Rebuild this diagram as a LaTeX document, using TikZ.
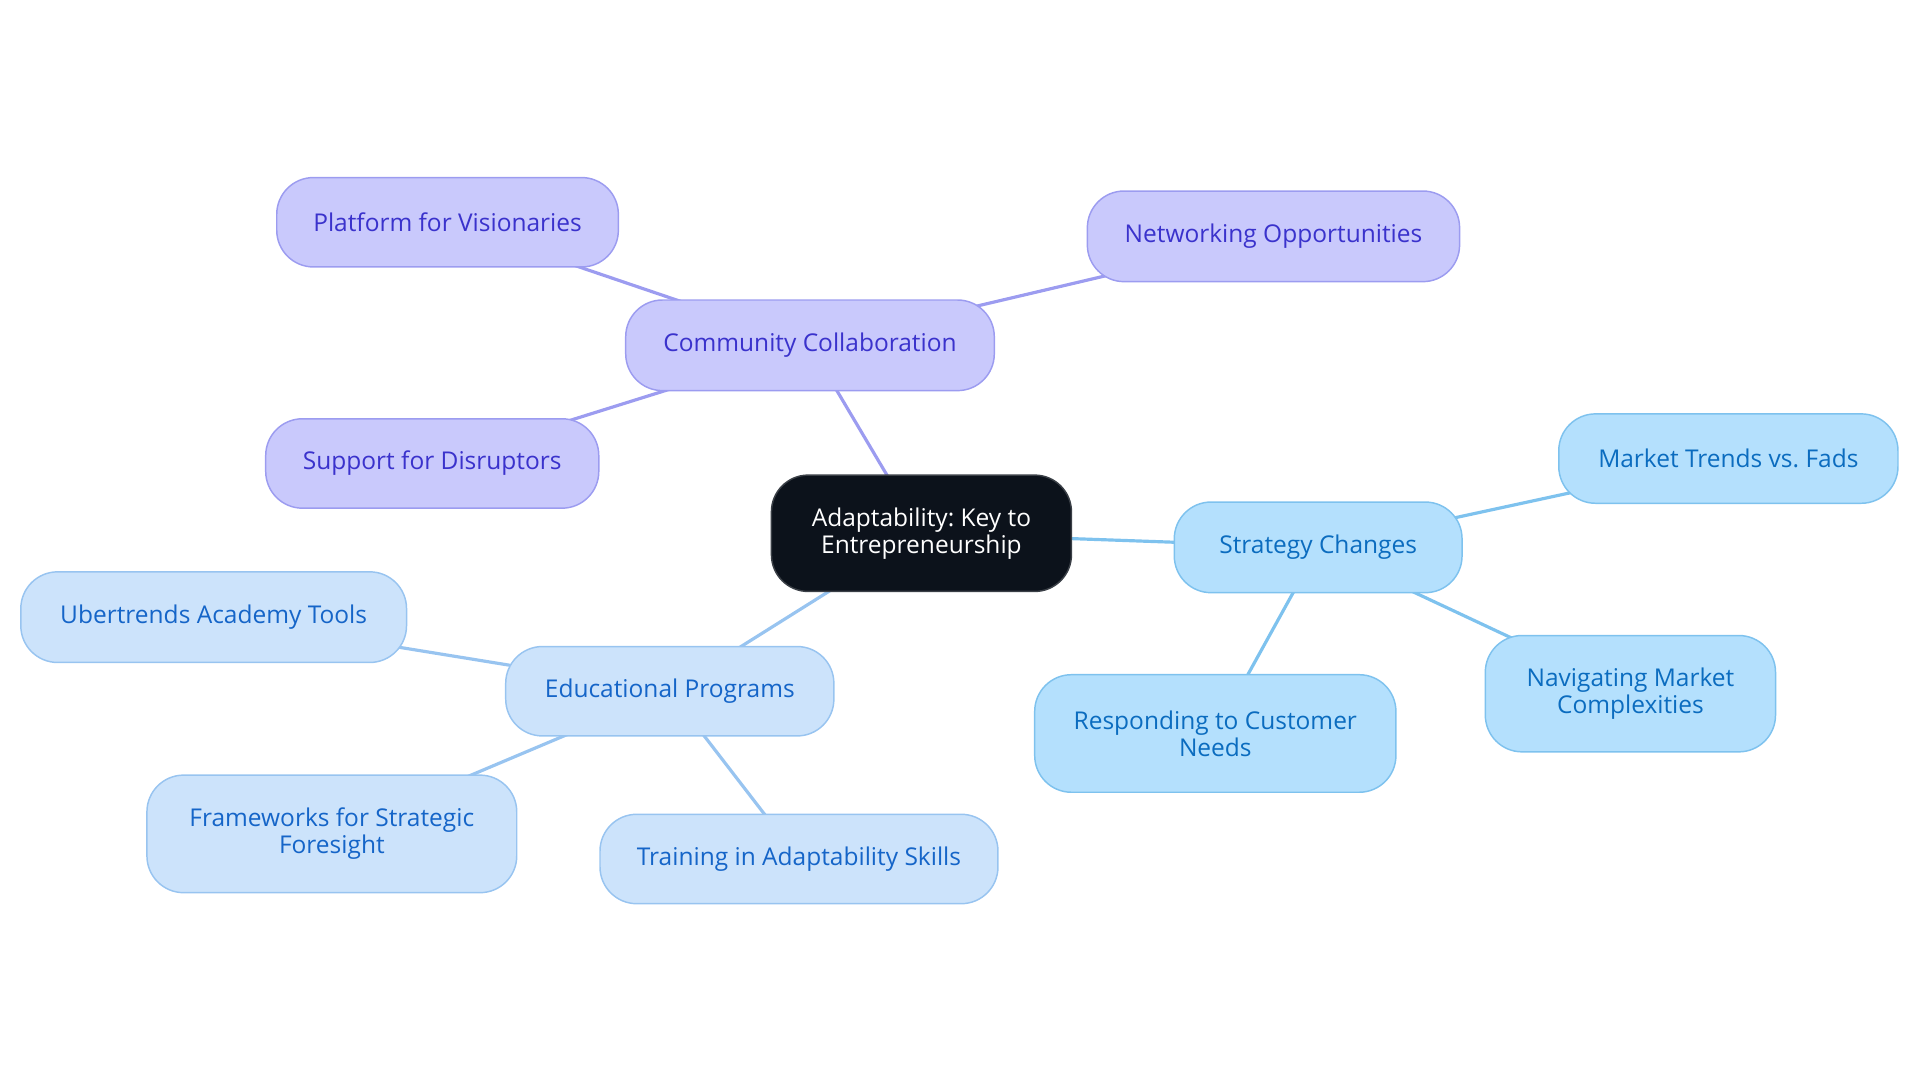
\documentclass[tikz,border=0pt]{standalone}
\usepackage{fontspec}
\setmainfont{Open Sans}
\frenchspacing
\usetikzlibrary{positioning,backgrounds}
\definecolor{hubfill}{HTML}{0C121B}
\definecolor{hubline}{HTML}{3A3F46}
\definecolor{commfill}{HTML}{C9C9FC}
\definecolor{commline}{HTML}{9C9CF0}
\definecolor{commtext}{HTML}{3A32CC}
\definecolor{edufill}{HTML}{CCE3FB}
\definecolor{eduline}{HTML}{98C4F0}
\definecolor{edutext}{HTML}{1565C8}
\definecolor{stratfill}{HTML}{B4E0FD}
\definecolor{stratline}{HTML}{7EC2EE}
\definecolor{strattext}{HTML}{0B6CBF}
\tikzstyle{topic}=[rectangle,rounded corners=30pt,align=center,inner sep=0pt,
  line width=1.2pt,font=\fontsize{20}{22}\selectfont]
\tikzstyle{hub}=[topic,fill=hubfill,draw=hubline,text=white]
\tikzstyle{comm}=[topic,fill=commfill,draw=commline,text=commtext]
\tikzstyle{edu}=[topic,fill=edufill,draw=eduline,text=edutext]
\tikzstyle{strat}=[topic,fill=stratfill,draw=stratline,text=strattext]
\newcommand{\newTopic}[6]{\node[#3,minimum width=#5,minimum height=#6](#1) at (#4) {#2};}
\newcommand{\newLink}[3]{\path[draw=#3,line width=2.6pt] (#1.center) -- (#2.center);}

\begin{document}
\begin{tikzpicture}[x=1pt,y=-1pt]
    \useasboundingbox (0,0) rectangle (1568,884);
    \newTopic{hub}{Adaptability: Key to\\Entrepreneurship}{hub}{752.5,435.5}{245pt}{95pt}
    \newTopic{comm}{Community Collaboration}{comm}{661.5,282}{301pt}{74pt}
    \newTopic{plat}{Platform for Visionaries}{comm}{365.5,181.5}{279pt}{73pt}
    \newTopic{netw}{Networking Opportunities}{comm}{1040,193}{304pt}{74pt}
    \newTopic{supp}{Support for Disruptors}{comm}{353,378.5}{272pt}{73pt}
    \newTopic{strat}{Strategy Changes}{strat}{1076.5,447}{235pt}{74pt}
    \newTopic{trend}{Market Trends vs. Fads}{strat}{1411.5,374.5}{277pt}{73pt}
    \newTopic{navi}{Navigating Market\\Complexities}{strat}{1331.5,566.5}{237pt}{95pt}
    \newTopic{resp}{Responding to Customer\\Needs}{strat}{992.5,599}{295pt}{96pt}
    \newTopic{edu}{Educational Programs}{edu}{547,564.5}{268pt}{73pt}
    \newTopic{uber}{Ubertrends Academy Tools}{edu}{174.5,504}{315pt}{74pt}
    \newTopic{frame}{Frameworks for Strategic\\Foresight}{edu}{271,681}{302pt}{96pt}
    \newTopic{train}{Training in Adaptability Skills}{edu}{652.5,701.5}{325pt}{73pt}
    \begin{scope}[on background layer]
    \newLink{hub}{comm}{commline}
    \newLink{comm}{plat}{commline}
    \newLink{comm}{netw}{commline}
    \newLink{comm}{supp}{commline}
    \newLink{hub}{strat}{stratline}
    \newLink{strat}{trend}{stratline}
    \newLink{strat}{navi}{stratline}
    \newLink{strat}{resp}{stratline}
    \newLink{hub}{edu}{eduline}
    \newLink{edu}{uber}{eduline}
    \newLink{edu}{frame}{eduline}
    \newLink{edu}{train}{eduline}
    \end{scope}
  \end{tikzpicture}
\end{document}
